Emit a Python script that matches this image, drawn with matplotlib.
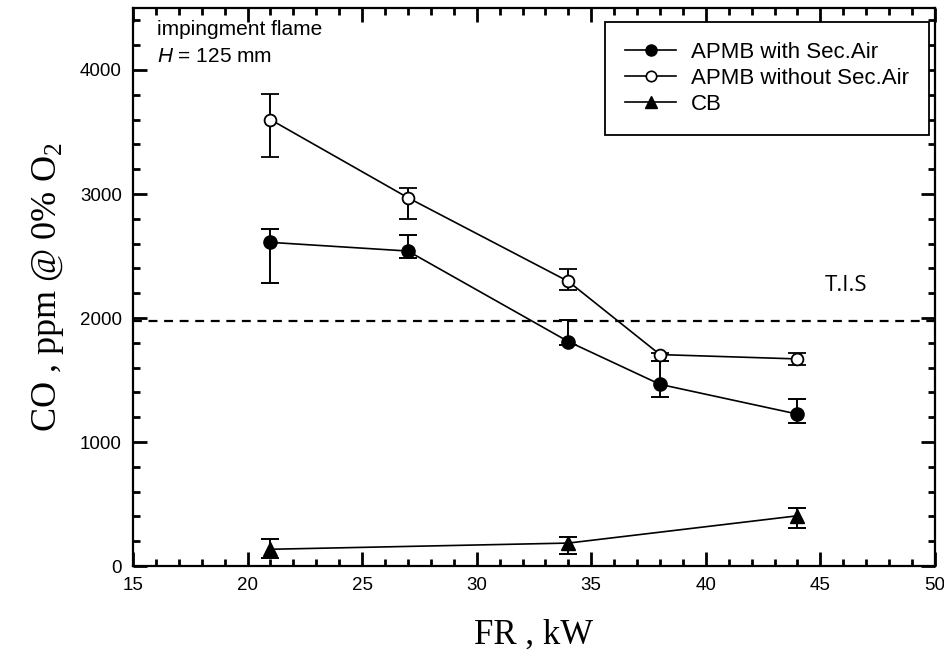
import numpy as np
import matplotlib
matplotlib.use('Agg')
import matplotlib.pyplot as plt
from matplotlib.ticker import MultipleLocator
from matplotlib.lines import Line2D

# data
fr_apmb = [21, 27, 34, 38, 44]
co_with = [2610, 2540, 1810, 1465, 1225]
err_with_lo = [330, 55, 30, 100, 70]
err_with_hi = [110, 130, 170, 190, 120]

co_without = [3600, 2970, 2295, 1705, 1670]
err_without_lo = [300, 170, 70, 55, 45]
err_without_hi = [205, 80, 100, 10, 50]

fr_cb = [21, 34, 44]
co_cb = [135, 185, 405]
err_cb_lo = [70, 90, 95]
err_cb_hi = [85, 45, 60]

tis_level = 1975

plt.rcParams['font.family'] = ['Liberation Sans', 'DejaVu Sans']
plt.rcParams['mathtext.fontset'] = 'custom'
plt.rcParams['mathtext.rm'] = 'Liberation Serif'
plt.rcParams['mathtext.it'] = 'Liberation Sans:italic'

fig = plt.figure(figsize=(9.45, 6.61), dpi=100)
ax = fig.add_axes([0.1407, 0.1437, 0.8487, 0.8442])

ax.axhline(tis_level, color='black', lw=1.6, ls=(0, (4, 3)), zorder=1)

kw = dict(color='black', lw=1.2, capsize=6.5, elinewidth=1.4, capthick=1.4)
ax.errorbar(fr_apmb, co_with, yerr=[err_with_lo, err_with_hi], fmt='-o',
            mfc='black', mec='black', ms=9.5, **kw)
ax.errorbar(fr_apmb, co_without, yerr=[err_without_lo, err_without_hi], fmt='-o',
            mfc='white', mec='black', mew=1.3, ms=8.5, **kw)
ax.errorbar(fr_cb, co_cb, yerr=[err_cb_lo, err_cb_hi], fmt='-^',
            mfc='black', mec='black', ms=10, **kw)

ax.set_xlim(15, 50)
ax.set_ylim(0, 4500)
ax.xaxis.set_major_locator(MultipleLocator(5))
ax.xaxis.set_minor_locator(MultipleLocator(1))
ax.yaxis.set_major_locator(MultipleLocator(1000))
ax.yaxis.set_minor_locator(MultipleLocator(200))
ax.tick_params(which='both', direction='in', top=True, right=True, width=2, labelsize=13.5)
ax.tick_params(which='major', length=10, pad=8)
ax.tick_params(which='minor', length=5)
for s in ax.spines.values():
    s.set_linewidth(1.6)

ax.set_xlabel('FR , kW', family='Liberation Serif', fontsize=25, labelpad=18)
ax.set_ylabel('CO , ppm @ 0% O$_2$', family='Liberation Serif', fontsize=26, labelpad=10)

ax.text(0.03, 0.978, 'impingment flame', transform=ax.transAxes, fontsize=15, va='top')
ax.text(0.03, 0.93, '$\\mathit{H}$ = 125 mm', transform=ax.transAxes, fontsize=15, va='top')
ax.text(46.1, 2260, 'T.I.S', fontsize=16, family='Open Sans', ha='center', va='center')

handles = [
    Line2D([], [], color='black', lw=1.2, marker='o', mfc='black', mec='black', ms=8),
    Line2D([], [], color='black', lw=1.2, marker='o', mfc='white', mec='black', mew=1.2, ms=7.5),
    Line2D([], [], color='black', lw=1.2, marker='^', mfc='black', mec='black', ms=8.5),
]
labels = ['APMB with Sec.Air', 'APMB without Sec.Air', 'CB']
leg = ax.legend(handles, labels, loc='upper right', bbox_to_anchor=(0.992, 0.975), fontsize=16,
                frameon=True, fancybox=False, edgecolor='black', framealpha=1, borderaxespad=0,
                handlelength=2.3, handletextpad=0.65, borderpad=0.9, labelspacing=0.22)
leg.get_frame().set_linewidth(1.3)

fig.savefig('out.png', dpi=100)
